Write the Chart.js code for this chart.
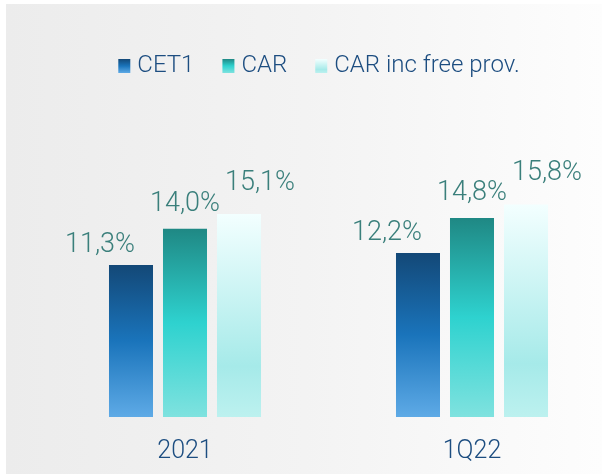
<!DOCTYPE html>
<html>
<head>
<meta charset="utf-8">
<script src="https://cdn.jsdelivr.net/npm/chart.js@4.4.1/dist/chart.umd.min.js"></script>
<style>
  html, body { margin: 0; padding: 0; background: #fff; }
</style>
</head>
<body>
<canvas id="myChart" width="602" height="474"></canvas>
<script>
// data
const categories = ['2021', '1Q22'];
const seriesNames = ['CET1', 'CAR', 'CAR inc free prov.'];
const cet1 = [11.3, 12.2];
const car = [14.0, 14.8];
const carFree = [15.1, 15.8];

// gradient stops per series (top -> bottom)
const stops = [
  [[0, '#134877'], [0.5, '#1a74bb'], [1, '#5eaae6']],
  [[0, '#1f8884'], [0.5, '#2ed2cf'], [1, '#7fe2df']],
  [[0, '#f3ffff'], [0.75, '#a6eae9'], [1, '#bcf1ef']]
];
const labelDx = [-31, 0, 21];
const labelGap = [13, 18, 24];

const valueColor = '#3a7f7b';
const textBlue = '#1c4d80';
const fontFam = 'Roboto, "Liberation Sans", sans-serif';

function makeGrad(c, y0, y1, s) {
  const g = c.createLinearGradient(0, y0, 0, y1);
  s.forEach(([p, col]) => g.addColorStop(p, col));
  return g;
}

function barFill(i) {
  return (ctx) => {
    const chart = ctx.chart;
    if (!chart.chartArea || ctx.type !== 'data') return stops[i][1][1];
    const y = chart.scales.y;
    const top = y.getPixelForValue(ctx.raw);
    const bottom = y.getPixelForValue(0);
    return makeGrad(chart.ctx, top, bottom, stops[i]);
  };
}

const fmt = v => v.toFixed(1).replace('.', ',') + '%';

const backdrop = {
  id: 'backdrop',
  beforeDraw(chart) {
    const c = chart.ctx;
    c.save();
    c.fillStyle = '#ffffff';
    c.fillRect(0, 0, chart.width, chart.height);
    const g = c.createLinearGradient(6, 0, chart.width, 0);
    g.addColorStop(0, '#ececec');
    g.addColorStop(0.5, '#f3f3f3');
    g.addColorStop(1, '#fdfdfd');
    c.fillStyle = g;
    c.fillRect(6, 4, chart.width - 6, chart.height - 4);
    c.restore();
  }
};

const legendTop = {
  id: 'legendTop',
  afterDraw(chart) {
    const c = chart.ctx;
    c.save();
    c.font = '300 24px ' + fontFam;
    const box = 12, boxH = 14, gapText = 7, gapItem = 28;
    const widths = seriesNames.map(n => c.measureText(n).width);
    const total = widths.reduce((a, w) => a + box + gapText + w, 0) + gapItem * (seriesNames.length - 1);
    let x = 319 - total / 2;
    const boxY = 59, baseY = 72;
    seriesNames.forEach((n, i) => {
      c.fillStyle = makeGrad(c, boxY, boxY + boxH, stops[i]);
      c.fillRect(x, boxY, box, boxH);
      x += box + gapText;
      c.fillStyle = textBlue;
      c.textBaseline = 'alphabetic';
      c.textAlign = 'left';
      c.fillText(n, x, baseY);
      x += widths[i] + gapItem;
    });
    c.restore();
  }
};

const valueLabels = {
  id: 'valueLabels',
  afterDatasetsDraw(chart) {
    const c = chart.ctx;
    c.save();
    c.font = '300 27px ' + fontFam;
    c.fillStyle = valueColor;
    c.textAlign = 'center';
    c.textBaseline = 'alphabetic';
    chart.data.datasets.forEach((ds, i) => {
      chart.getDatasetMeta(i).data.forEach((bar, j) => {
        c.fillText(fmt(ds.data[j]), bar.x + labelDx[i], bar.y - labelGap[i]);
      });
    });
    c.restore();
  }
};

new Chart(document.getElementById('myChart'), {
  type: 'bar',
  data: {
    labels: categories,
    datasets: [cet1, car, carFree].map((d, i) => ({
      label: seriesNames[i],
      data: d,
      backgroundColor: barFill(i),
      borderWidth: 0,
      clip: false
    }))
  },
  options: {
    responsive: false,
    animation: false,
    devicePixelRatio: 1,
    categoryPercentage: 0.5645,
    barPercentage: 0.815,
    layout: { padding: { left: 185, right: 130, top: 148, bottom: 0 } },
    plugins: { legend: { display: false }, tooltip: { enabled: false } },
    scales: {
      x: {
        offset: false,
        grid: { display: false, drawTicks: false },
        border: { display: false },
        ticks: { color: textBlue, font: { family: fontFam, size: 25, weight: '300' }, padding: 20, maxRotation: 0 },
        afterFit(s) { s.height = 57; }
      },
      y: { display: false, min: 0, max: 20 }
    }
  },
  plugins: [backdrop, legendTop, valueLabels]
});
</script>
</body>
</html>
